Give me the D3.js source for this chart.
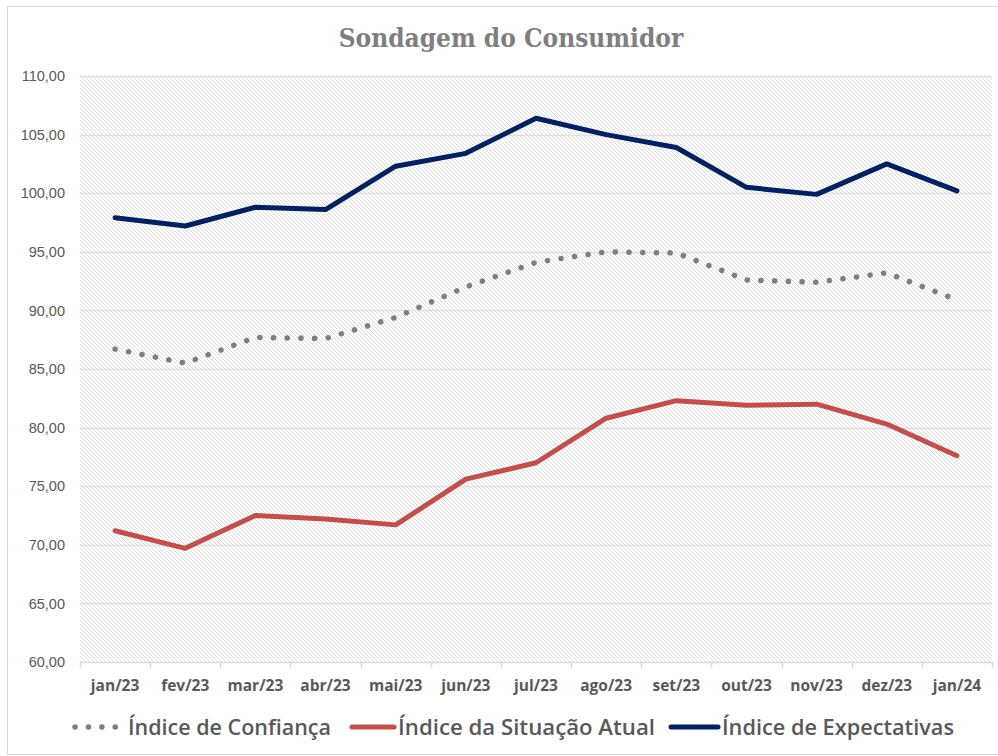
<!DOCTYPE html>
<html>
<head>
<meta charset="utf-8">
<script src="https://cdn.jsdelivr.net/npm/d3@7"></script>
<style>
  body { margin: 0; background: #fff; }
  svg { display: block; }
</style>
</head>
<body>
<script>
// data
var meses = ["jan/23", "fev/23", "mar/23", "abr/23", "mai/23", "jun/23", "jul/23",
             "ago/23", "set/23", "out/23", "nov/23", "dez/23", "jan/24"];
var confianca = [86.7, 85.5, 87.7, 87.6, 89.4, 92.0, 94.1, 95.0, 94.9, 92.6, 92.4, 93.2, 90.9];
var situacaoAtual = [71.2, 69.7, 72.5, 72.2, 71.7, 75.6, 77.0, 80.8, 82.3, 81.9, 82.0, 80.3, 77.6];
var expectativas = [97.9, 97.2, 98.8, 98.6, 102.3, 103.4, 106.4, 105.0, 103.9, 100.5, 99.9, 102.5, 100.2];
var yTicks = [60, 65, 70, 75, 80, 85, 90, 95, 100, 105, 110];

var series = [
  { name: "Índice de Confiança", values: confianca, color: "#7f7f7f", dotted: true },
  { name: "Índice da Situação Atual", values: situacaoAtual, color: "#c0504d", dotted: false },
  { name: "Índice de Expectativas", values: expectativas, color: "#002060", dotted: false }
];

var W = 998, H = 756;
var margin = { top: 76, right: 6, bottom: 94, left: 80 };
var width = W - margin.left - margin.right,
    height = H - margin.top - margin.bottom;

var svg = d3.select("body").append("svg")
    .attr("width", W)
    .attr("height", H);

// outer chart border
svg.append("rect")
    .attr("x", 7.5).attr("y", 6.5)
    .attr("width", W).attr("height", H - 8)
    .attr("fill", "#fff")
    .attr("stroke", "#d9d9d9");

// light diagonal hatch of the plot area, one pixel per row
var defs = svg.append("defs");
var pat = defs.append("pattern")
    .attr("id", "hatch")
    .attr("patternUnits", "userSpaceOnUse")
    .attr("width", 4).attr("height", 4);
pat.append("rect").attr("width", 4).attr("height", 4).attr("fill", "#fff");
d3.range(4).forEach(function(i) {
  pat.append("rect")
      .attr("x", i).attr("y", i)
      .attr("width", 1).attr("height", 1)
      .attr("fill", "#dadada")
      .attr("shape-rendering", "crispEdges");
});

svg.append("text")
    .attr("x", 511).attr("y", 47)
    .attr("text-anchor", "middle")
    .attr("font-family", "'DejaVu Serif', 'Liberation Serif', serif")
    .attr("font-weight", "bold")
    .attr("font-size", 26)
    .style("font-stretch", "condensed")
    .attr("fill", "#7f7f7f")
    .text("Sondagem do Consumidor");

var g = svg.append("g")
    .attr("transform", "translate(" + margin.left + "," + margin.top + ")");

var x = d3.scaleBand().domain(meses).range([0, width]);
var y = d3.scaleLinear().domain([60, 110]).range([height, 0]);

g.append("rect")
    .attr("width", width).attr("height", height)
    .attr("fill", "url(#hatch)");

// gridlines
g.append("g")
    .selectAll("line")
    .data(yTicks.slice(1))
    .enter().append("line")
      .attr("x1", 0).attr("x2", width)
      .attr("y1", function(d) { return Math.round(y(d)) + 0.5; })
      .attr("y2", function(d) { return Math.round(y(d)) + 0.5; })
      .attr("stroke", "#e0e0e0")
      .attr("stroke-width", 1.5);

var fmt = function(d) { return d3.format(".2f")(d).replace(".", ","); };

var yAxis = g.append("g")
    .call(d3.axisLeft(y).tickValues(yTicks).tickFormat(fmt).tickSize(0).tickPadding(15));
yAxis.select(".domain").remove();
yAxis.selectAll("text")
    .attr("font-family", "'Liberation Sans', Arial, sans-serif")
    .attr("font-size", 14.5)
    .attr("fill", "#595959");

var xAxis = g.append("g")
    .attr("transform", "translate(0," + height + ")")
    .call(d3.axisBottom(x).tickSize(0).tickPadding(18));
xAxis.select(".domain").attr("stroke", "#d9d9d9").attr("stroke-width", 1.5);
xAxis.selectAll("text")
    .attr("font-family", "'Open Sans', 'Liberation Sans', sans-serif")
    .attr("font-weight", "bold")
    .attr("font-size", 15.5)
    .attr("fill", "#595959");
// tick marks sit on the band edges
xAxis.selectAll(".edge")
    .data(meses.concat([null]))
    .enter().append("line")
      .attr("class", "edge")
      .attr("x1", function(d, i) { return Math.round(i * x.step()) + 0.5; })
      .attr("x2", function(d, i) { return Math.round(i * x.step()) + 0.5; })
      .attr("y1", 0).attr("y2", 6)
      .attr("stroke", "#d9d9d9")
      .attr("stroke-width", 1.5);

var line = d3.line()
    .x(function(d, i) { return x(meses[i]) + x.bandwidth() / 2; })
    .y(function(d) { return y(d); });

g.selectAll(".serie")
    .data(series)
    .enter().append("path")
      .attr("class", "serie")
      .attr("d", function(d) { return line(d.values); })
      .attr("fill", "none")
      .attr("stroke", function(d) { return d.color; })
      .attr("stroke-width", function(d) { return d.dotted ? 5.5 : 5; })
      .attr("stroke-linecap", "round")
      .attr("stroke-linejoin", "round")
      .attr("stroke-dasharray", function(d) { return d.dotted ? "0.1 13.6" : null; });

// legend
var legendPos = [{ x: 75, tx: 128, w: 203 }, { x: 352, tx: 398, w: 257 }, { x: 671, tx: 722, w: 232 }];
var leg = svg.append("g").attr("transform", "translate(0,727)");
series.forEach(function(s, i) {
  leg.append("line")
      .attr("x1", legendPos[i].x).attr("x2", legendPos[i].tx - 4)
      .attr("y1", 0).attr("y2", 0)
      .attr("stroke", s.color)
      .attr("stroke-width", s.dotted ? 5.5 : 5)
      .attr("stroke-linecap", "round")
      .attr("stroke-dasharray", s.dotted ? "0.1 13.3" : null);
  leg.append("text")
      .attr("x", legendPos[i].tx).attr("y", 8)
      .attr("font-family", "'Open Sans', sans-serif")
      .attr("font-weight", 600)
      .attr("font-size", 22)
      .attr("textLength", legendPos[i].w)
      .attr("lengthAdjust", "spacingAndGlyphs")
      .attr("fill", "#595959")
      .text(s.name);
});
</script>
</body>
</html>
